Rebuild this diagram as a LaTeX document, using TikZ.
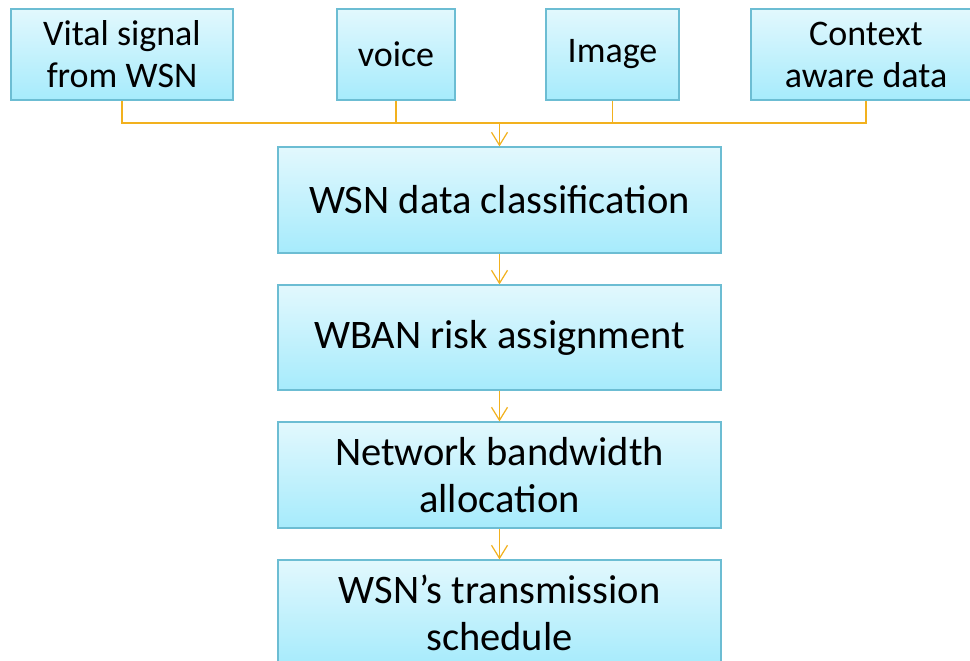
\documentclass[tikz,border=0pt]{standalone}
\usepackage{fontspec}
\setmainfont{Carlito}
\usetikzlibrary{arrows.meta}
\definecolor{boxtop}{HTML}{E2F8FD}
\definecolor{boxbot}{HTML}{A6EBFC}
\definecolor{boxline}{HTML}{6CBDD3}
\definecolor{conn}{HTML}{F2B11E}
\tikzset{
  topbox/.style={draw=boxline, line width=1.2pt, top color=boxtop, bottom color=boxbot,
    inner sep=0pt, align=center, font=\fontsize{36}{42}\selectfont},
  mainbox/.style={draw=boxline, line width=1.2pt, top color=boxtop, bottom color=boxbot,
    inner sep=0pt, align=center, minimum width=443pt, font=\fontsize{40.5}{47}\selectfont},
  conn/.style={draw=conn, line width=1.2pt},
  arr/.style={conn, -{Straight Barb[length=13pt, width=16pt, line width=1.2pt]}}
}
\begin{document}
\begin{tikzpicture}[x=1pt, y=-1pt]
\clip (0,0) rectangle (970,661);
\fill[white] (0,0) rectangle (970,661);
% top boxes
\node[topbox, minimum width=222pt, minimum height=91pt] (vital) at (122,54.5) {Vital signal\\from WSN};
\node[topbox, minimum width=118pt, minimum height=91pt] (voice) at (396,54.5) {voice};
\node[topbox, minimum width=133pt, minimum height=91pt] (image) at (612.5,54.5) {Image};
\node[topbox, minimum width=230pt, minimum height=91pt] (context) at (866,54.5) {Context\\aware data};
% main boxes
\node[mainbox, minimum height=106pt] (cls) at (499.5,200) {WSN data classification};
\node[mainbox, minimum height=105pt] (risk) at (499.5,337.5) {WBAN risk assignment};
\node[mainbox, minimum height=106pt] (bw) at (499.5,475) {Network bandwidth\\allocation};
\node[mainbox, minimum height=106pt] (sched) at (499.5,613) {WSN’s transmission\\schedule};
% connectors
\coordinate (j) at (499.5,123);
\draw[conn] (vital.south) |- (j);
\draw[conn] (voice.south) |- (j);
\draw[conn] (image.south) |- (j);
\draw[conn] (context.south) |- (j);
\draw[arr] (j) -- (cls.north);
\draw[arr] (cls.south) -- (risk.north);
\draw[arr] (risk.south) -- (bw.north);
\draw[arr] (bw.south) -- (sched.north);
\end{tikzpicture}
\end{document}
